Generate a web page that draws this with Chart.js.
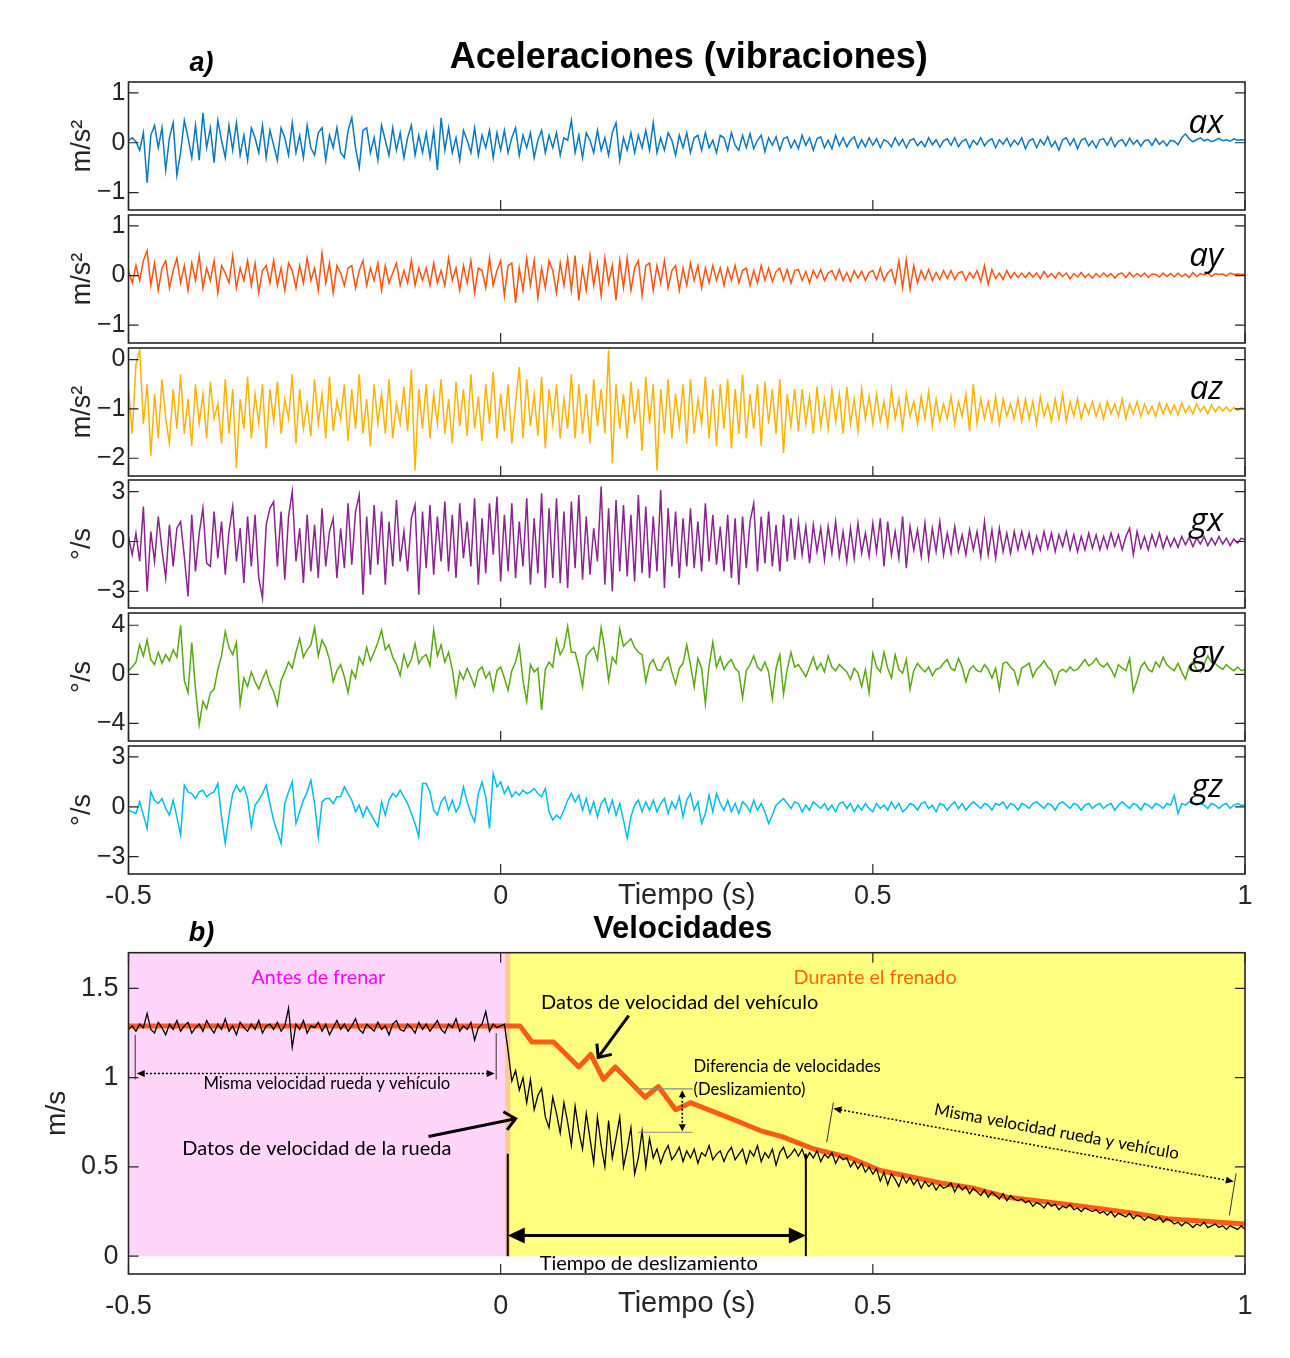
<!DOCTYPE html>
<html>
<head>
<meta charset="utf-8">
<script src="https://cdn.jsdelivr.net/npm/chart.js@4.4.1/dist/chart.umd.min.js"></script>
<style>
  html, body { margin: 0; padding: 0; background: #fff; }
  #fig { position: relative; width: 1290px; height: 1358px; background: #fff; overflow: hidden; }
  #fig canvas { position: absolute; left: 0; }
</style>
</head>
<body>
<div id="fig"></div>
<script>
// ---- sampling of the logged signals (s); one row = 20 samples = 0.1 s ----
const T0 = -0.5;
const DT = 0.005;

// ---- accelerations (m/s^2) ----
const ax = [
  .05,.1,.02,-.15,.2,-.8,.15,.35,-.1,.3,-.55,.1,.4,-.65,-.2,.45,.1,-.3,.35,-.35,
  .6,-.1,.3,-.4,.45,.05,-.3,.35,-.15,.4,-.25,.15,-.35,.3,.1,-.2,.35,-.3,.25,-.05,
  -.35,.3,.1,-.25,.4,-.2,.15,-.3,.35,-.1,-.25,.2,.3,-.35,.15,-.1,.3,-.2,-.3,.25,
  .5,-.1,-.5,.25,.3,-.2,.1,-.35,.35,.05,-.25,.3,-.15,.2,-.3,.1,.35,-.25,.15,-.2,
  .2,-.3,.25,-.55,.5,-.15,.3,-.2,.1,-.35,.25,.05,-.2,.3,-.25,.15,-.1,.25,-.3,.2,
  -.15,.25,-.2,.1,.3,-.25,.15,-.1,.2,-.3,.05,.25,-.2,.15,-.1,.2,-.25,.1,.05,.45,
  -.2,.15,-.3,.2,.05,-.2,.25,-.15,.1,-.25,.2,.4,-.35,.1,-.15,.2,-.2,.15,-.1,.25,
  -.15,.4,-.2,.1,-.15,.2,.05,-.25,.15,-.1,.2,-.2,.1,.15,-.15,.2,-.1,.05,-.2,.15,
  .1,-.15,.2,-.05,-.15,.15,-.1,.18,-.12,.05,.15,-.18,.1,-.05,.12,-.15,.08,.12,-.1,.05,
  -.12,.15,-.05,.1,-.15,.08,.12,-.1,.05,-.12,.15,-.06,.1,-.08,.05,.12,-.1,.06,-.08,.1,
  -.05,.08,-.1,.06,.02,-.08,.1,-.05,.07,-.1,.05,.08,-.06,.03,-.08,.1,-.04,.06,-.09,.04,
  .08,-.05,.1,-.08,.03,.07,-.1,.05,-.04,.1,-.06,.04,.08,-.1,.06,-.03,.09,-.07,.05,-.04,
  .1,-.12,.04,.08,-.1,.06,-.04,.12,-.08,.03,-.15,.06,.1,-.05,.08,-.12,.05,.09,-.06,.04,
  -.1,.06,.08,-.05,.1,-.08,.03,.06,-.06,.09,-.03,.05,-.07,.04,.06,-.05,.08,-.03,.04,-.06,
  .05,.03,-.04,.1,.18,.08,.02,.06,.1,.04,.07,.02,.05,.09,.04,.06,.03,.08,.05,.06,
  .05
];
const ay = [
  .1,-.15,.2,-.1,.3,.5,-.2,.25,-.3,.15,.3,-.25,.1,.35,-.15,.2,-.3,.25,-.1,.4,
  -.25,.15,-.1,.3,-.35,.2,.05,-.15,.4,-.25,.15,-.1,.3,-.2,.25,-.35,.1,.2,-.15,.3,
  -.2,.15,-.3,.25,.1,-.25,.2,-.15,.35,-.1,.15,-.3,.45,-.15,.25,-.35,.2,.05,-.2,.15,
  .2,-.25,.1,.3,-.2,.15,-.1,.25,-.3,.2,-.15,.05,.25,-.2,.1,-.15,.3,-.2,.15,-.1,
  .15,-.2,.25,-.15,.1,-.2,.35,-.1,.15,-.3,.2,-.15,.3,-.35,.15,.1,-.25,.35,-.2,.1,
  .3,-.4,.2,.25,-.55,.15,-.3,.35,-.2,.3,-.45,.15,-.25,.3,.1,-.35,.25,-.2,.35,-.3,
  .4,-.5,.15,-.3,.4,-.2,.25,-.4,.35,-.15,.2,-.5,.3,-.25,.35,-.3,.15,.3,-.4,.2,
  .25,-.3,.2,-.15,.3,-.25,.1,.2,-.3,.15,-.2,.25,-.1,.2,-.25,.15,-.15,.2,-.1,.15,
  -.2,.15,-.1,.2,-.15,.1,.15,-.2,.1,-.15,.2,-.1,.15,-.12,.08,.15,-.1,.12,-.15,.1,
  .12,-.1,.08,-.15,.1,-.05,.12,-.1,.05,.1,-.08,.12,-.1,.06,-.12,.1,-.05,.08,-.1,.06,
  .1,-.08,.15,-.1,.05,.12,-.15,.3,-.25,.32,-.28,.2,-.15,.1,-.08,.12,-.1,.06,-.08,.1,
  -.06,.1,-.08,.05,.08,-.1,.06,-.05,.1,-.12,.2,-.18,.12,-.06,.05,-.08,.1,-.05,.06,-.04,
  .05,-.04,.06,-.03,.05,-.06,.08,-.03,.04,-.05,.06,-.02,.05,-.07,.04,-.03,.06,-.04,.03,-.05,
  .04,-.03,.05,-.02,.04,-.05,.03,.05,-.04,.06,-.03,.04,-.02,.05,-.04,.03,.02,-.03,.05,-.02,
  .04,-.03,.05,-.02,.03,-.04,.06,-.02,.04,.01,.05,-.02,.04,.02,.03,-.01,.05,.02,.03,.02,
  .03
];
const az = [
  -.6,-1.5,-.1,.2,-1.3,-.5,-1.95,-.7,-1.6,-.4,-1.2,-1.7,-.6,-1.4,-.3,-1.5,-.8,-1.75,-.5,-1.3,
  -.7,-1.6,-.45,-1.2,-.9,-1.7,-.4,-1.5,-.6,-2.2,-.8,-1.4,-.35,-1.6,-.7,-1.3,-.5,-1.8,-.6,-1.25,
  -.45,-1.5,-.8,-1.2,-.3,-1.7,-.6,-1.4,-.9,-1.55,-.4,-1.3,-.7,-1.6,-.35,-1.45,-.85,-1.2,-.5,-1.65,
  -.6,-1.4,-.3,-1.5,-.8,-1.75,-.5,-1.3,-.7,-1.5,-.4,-1.6,-.9,-1.3,-.55,-1.45,-.2,-2.25,-.6,-1.4,
  -.5,-1.6,-.7,-1.3,-.4,-1.5,-.8,-1.7,-.45,-1.35,-.6,-1.55,-.3,-1.4,-.75,-1.65,-.5,-1.3,-.25,-1.6,
  -.7,-1.45,-.5,-1.7,-.9,-.15,-1.6,-.4,-1.35,-.7,-1.55,-.35,-1.8,-.6,-1.3,-.5,-1.6,-.8,-1.4,-.3,
  -1.6,-.5,-1.5,-.7,-1.7,-.4,-1.35,-.6,-1.5,.2,-2.1,-.5,-1.4,-.7,-1.6,-.45,-1.3,-.6,-1.85,-.35,
  -1.3,-.5,-2.25,-.6,-1.5,-.4,-1.6,-.7,-1.35,-.5,-1.7,-.4,-1.5,-.8,-1.3,-.35,-1.6,-.6,-1.75,-.5,
  -1.4,-.4,-1.8,-.6,-1.5,-.3,-1.6,-.7,-1.4,-.5,-1.75,-.45,-1.3,-.6,-1.5,-.4,-1.9,-.7,-1.35,-.6,
  -1.45,-.6,-1.3,-.75,-1.5,-.55,-1.35,-.8,-1.4,-.6,-1.25,-.7,-1.5,-.55,-1.3,-.8,-1.45,-.6,-1.2,-.75,
  -1.3,-.7,-1.25,-.85,-1.35,-.6,-1.2,-.8,-1.4,-.7,-1.15,-.85,-1.3,-.75,-1.2,-.65,-1.35,-.8,-1.25,-.9,
  -1.2,-.75,-1.3,-.85,-1.15,-.7,-1.45,-.5,-1.3,-.8,-1.2,-.85,-1.25,-.75,-1.3,-.8,-1.15,-.9,-1.2,-.8,
  -1.25,-.8,-1.2,-.85,-1.3,-.75,-1.15,-.9,-1.25,-.8,-1.2,-.7,-1.25,-.85,-1.15,-.8,-1.2,-.9,-1.1,-.85,
  -1.15,-.9,-1.2,-.85,-1.1,-.9,-1.15,-.8,-1.2,-.9,-1.1,-.85,-1.15,-.9,-1.1,-.95,-1.15,-.88,-1.1,-.9,
  -1.1,-.92,-1.12,-.88,-1.08,-.95,-1.1,-.9,-1.05,-.95,-1.1,-.92,-1.06,-.95,-1.04,-.96,-1.05,-.97,-1.03,-.98,
  -1
];

// ---- angular rates (deg/s) ----
const gx = [
  .3,-.8,.5,-1.2,2.1,-3,.6,-1.2,1.5,-.5,-2.2,1,-1.5,.8,1.2,-.9,-3.3,1.6,-1.8,.5,
  2,-1.3,-1.5,1.8,-1,1.2,-2,.6,2.1,-1.2,.8,-2.5,1.5,-1.5,1.6,-2.2,-3.4,1,2,2.4,
  -1.5,1.8,-2.3,1.5,3,-1.2,.8,-2.5,1.6,-1.8,1,-2.2,2,-1.5,.6,1.4,-2.2,.8,-1.6,2.3,
  -1.4,1.8,2.8,-3.2,1.5,-2,2.2,-1.4,1.8,-2.6,1.2,-1.5,2.5,-1.2,.6,-1.8,1.4,2.2,-3.2,1.8,
  -1.6,2.2,-2,1.5,-1.2,2.4,-1.8,1.6,-2.2,2.3,-1,1.2,-1.5,2.6,-2.6,1.4,-1.9,2.3,-.8,2.7,
  -2.4,1.6,-1.8,2.3,-2.2,1.2,-1.5,2.6,-2.6,1.4,-1.9,2.9,-2.8,2,-2.2,2.6,-2.5,1.8,-2.8,2.4,
  -1.6,2.8,-2.3,1.5,-2,.8,-1.2,3.3,-2.6,2,-3,2.5,-1.8,2.2,-2.1,1.6,-2.4,2.8,-1.9,2.1,
  -2.2,1.5,-1.8,3.1,-2.8,2,-1.5,1.8,-2.2,1.4,-1.5,2,-1.6,1.2,-1.8,2.3,-1.2,1.6,-1.4,.9,
  -1.8,1.6,-2.2,1.4,-2.6,1.5,-1.6,1.2,2.3,-1.8,1.5,-1.3,1.8,-1.5,1,-1.8,1.6,-1.2,1.4,-1.1,
  1.2,-.8,.9,-1.3,1,-.6,.8,-1.1,.9,-.7,1.2,-.9,.6,-1.2,.8,-1,1.1,-.7,.5,-.9,
  1.1,-.6,1.4,-1.5,1.2,-.8,.6,-1,1.5,-1.6,.9,-.5,.7,-.9,1.1,-1,.8,-.6,1.2,-.8,
  .5,-.7,.9,-.6,.4,-.8,.7,-.5,.6,-.9,1.2,-.8,.7,-1,.8,-.6,.5,-.7,.6,-.5,
  .6,-.4,.5,-.7,.3,-.5,.6,-.4,.5,-.6,.4,-.3,.6,-.5,.4,-.6,.3,-.5,.5,-.4,
  .4,-.5,.3,-.4,.5,-.3,.4,-.5,.3,.8,-.8,.6,-.4,.3,-.5,.4,-.3,.5,-.4,.3,
  -.3,.2,-.35,.3,-.2,.25,-.3,.2,-.15,.3,-.25,.2,-.2,.3,-.15,.2,-.25,.15,-.1,.2,
  .1
];
const gy = [
  .3,.6,1,2.4,1.5,2.8,1.2,.8,1.8,.9,1.6,1.1,2,1.4,4,-.5,-1.5,2.6,-1.2,-4.1,
  -2.2,-2.8,-1.5,-1.2,.4,1.5,3.5,2.2,1.6,2.6,-2.4,-.3,-1,.2,-.6,-1.2,-.4,.3,-.8,-1.4,
  -2.5,-.5,.2,1,.5,1.8,2.9,1.4,2,2.4,3.8,1.5,2.8,2.2,1.2,-.6,.3,.8,-.2,-1.5,
  .3,-.3,1.4,.8,2.2,1.1,1.8,2.6,3.6,2,2.4,1.4,.8,-.1,1.6,.6,1.2,2.5,.9,1.4,
  1.6,.7,3.6,1.5,2.4,1,1.8,.4,-1.7,.2,-.4,.5,-.2,-1,.3,.6,-.3,.2,-1.3,.3,
  .6,-.3,-1.3,.3,1,2.3,-.5,-2.2,.8,.2,.5,-2.9,.4,1,.6,2.8,1.6,2.2,3.9,1.8,
  1.8,.6,-1,1.5,1.9,2.2,1.2,3.8,2,-.5,1.4,.9,3.7,2.3,2.6,2.9,2.2,1.8,1.6,-.6,
  .8,1.2,.4,.3,1,1.4,.2,-.8,.5,.9,2.4,.8,-1,1.3,.5,-2.4,.7,2.6,.6,1.4,
  .4,.9,1.2,.5,.2,-1.9,.3,.8,1.5,.6,.3,1,.2,-2,.5,1.6,-1.6,.4,1.8,.6,
  .8,.3,-.2,.6,1.4,.4,.9,.2,1.5,.6,.3,.8,.5,.2,-.4,.5,.1,-1,.4,-1.5,
  1.7,.6,.2,1.8,.5,-.3,1.6,.4,.1,1.2,-1.2,.3,.9,.5,.2,.6,-.1,.4,.5,.9,
  1.2,.5,.3,1.3,.6,-.6,.4,.7,.3,.2,.8,.4,-.3,.5,-1.2,.9,1,.6,.3,-.8,
  .5,.7,.9,-.2,.4,.7,1.1,.6,.3,-.8,.2,.4,.2,.6,.3,.4,.8,1.2,.7,.9,
  1.3,.8,.6,.9,.4,-.2,.8,.5,.3,1.3,-1.4,-.5,.6,1,.4,.2,1,.6,1.4,.8,
  .5,.3,.9,.2,-.4,.7,1,.4,.2,.8,1.5,1,.9,.6,.4,.8,.5,.3,.6,.3,
  .4
];
const gz = [
  -.2,-.3,-.4,.3,-.5,-1.3,.9,.4,.2,.5,-.1,-.5,.4,-.6,-1.7,1.3,.9,.8,.5,.9,
  1,.6,.8,.9,1.4,-.6,-2.2,-.5,.8,1.3,.9,1.2,.5,-1.2,.1,.4,.8,1.3,.2,-.8,
  -1.5,-2.2,.2,.9,1.5,-1,-.3,.4,.9,1.6,.2,-1.8,.3,.5,.5,.2,.6,.6,1.2,.8,
  .4,-.3,.1,-.6,0,-.4,-.8,-1.2,.3,-.5,.4,.8,.6,1,.6,.2,-.4,-1,-1.8,1.4,
  1.4,.9,-.2,-.5,.3,.6,-.2,.4,-.3,.1,1.2,.3,-.4,-.9,.8,1.5,.6,-1.3,2,1.2,
  1.5,.8,1.2,.6,.9,.7,1,.8,.9,1.1,.8,.6,1.1,-.3,-.8,-.5,-.7,-.2,.4,.8,
  .3,.7,-.2,.5,-.4,.3,-.6,.2,.5,-.3,.4,-.5,.2,-.8,-1.9,-.6,.1,.4,-.3,.3,
  -.2,.4,-.3,.2,.5,-.4,.3,-.1,.6,-.6,.4,.8,-.2,.3,-1,-.4,.7,-.3,.8,.2,
  -.2,.4,-.3,.2,-.4,.3,.1,-.3,.4,-.2,.2,-.3,-1,-.5,.1,.3,.5,.2,-.1,.3,
  .2,-.3,.1,-.2,.3,.1,-.1,.2,-.2,.1,-.3,.2,.3,-.1,.2,-.3,.1,-.2,.2,-.1,
  -.3,.2,-.1,.1,-.2,.3,-.1,.2,-.3,-.1,.2,.1,-.2,.2,.3,-.1,.1,-.3,.2,.1,
  -.2,.1,.3,-.1,.2,-.2,.1,.3,.1,-.1,.2,.1,-.2,.2,.1,.3,-.1,.2,.1,-.2,
  .2,.1,-.1,.2,.3,.1,-.1,.2,.1,-.2,.2,.3,.1,-.1,.2,.1,-.2,.1,.2,-.1,
  .1,.2,-.1,.1,.2,-.2,.1,.3,.1,-.1,.2,.1,-.2,.2,.1,-.1,.2,.1,-.1,.2,
  .1,.7,-.4,.2,.1,.3,.2,.1,.2,.1,-.1,.2,.1,-.1,.1,.2,-.1,.1,.2,.1,
  .1
];

// ---- speeds (m/s) ----
const wheelSpeed = [
  1.27,1.29,1.26,1.3,1.28,1.36,1.27,1.25,1.31,1.28,1.24,1.3,1.27,1.32,1.26,1.29,1.31,1.25,1.28,1.3,
  1.26,1.32,1.28,1.25,1.3,1.27,1.33,1.26,1.29,1.24,1.31,1.28,1.26,1.3,1.27,1.32,1.25,1.29,1.3,1.27,
  1.31,1.26,1.29,1.39,1.17,1.3,1.27,1.32,1.25,1.29,1.28,1.31,1.26,1.3,1.24,1.28,1.32,1.27,1.3,1.26,
  1.29,1.33,1.27,1.25,1.3,1.28,1.26,1.31,1.27,1.29,1.24,1.3,1.32,1.27,1.26,1.3,1.28,1.25,1.31,1.27,
  1.3,1.26,1.29,1.32,1.27,1.25,1.3,1.28,1.33,1.26,1.29,1.27,1.31,1.21,1.28,1.3,1.37,1.26,1.3,1.28,
  1.29,1.3,1.15,.98,1.04,.93,1,.86,.99,.82,.9,.94,.78,.72,.89,.8,.69,.86,.75,.62,
  .84,.7,.6,.8,.66,.52,.78,.62,.5,.76,.55,.66,.78,.5,.6,.72,.46,.55,.7,.5,
  .66,.55,.6,.52,.58,.62,.54,.57,.61,.53,.59,.55,.6,.52,.58,.56,.62,.54,.57,.59,
  .53,.58,.61,.54,.57,.6,.52,.59,.56,.62,.53,.58,.55,.6,.51,.58,.61,.55,.57,.6,
  .56,.6,.54,.58,.55,.59,.53,.57,.55,.58,.52,.56,.54,.55,.5,.53,.49,.52,.47,.5,
  .46,.49,.42,.47,.4,.46,.43,.39,.45,.41,.44,.4,.43,.38,.42,.39,.41,.37,.4,.38,
  .39,.41,.36,.4,.37,.39,.35,.38,.36,.34,.37,.33,.36,.34,.32,.35,.31,.34,.32,.31,
  .32,.3,.31,.28,.3,.29,.27,.3,.28,.29,.26,.28,.27,.29,.26,.27,.25,.27,.26,.25,
  .26,.24,.25,.23,.25,.22,.24,.23,.22,.24,.21,.23,.22,.2,.22,.21,.2,.22,.19,.21,
  .2,.18,.19,.17,.19,.18,.16,.18,.17,.19,.16,.17,.18,.16,.17,.15,.17,.16,.15,.17,
  .15
];
const vehicleTime  = [-0.5, 0.026, 0.042, 0.071, 0.105, 0.121, 0.138, 0.154, 0.194, 0.212, 0.235, 0.255, 0.316, 0.351, 0.378, 0.421, 0.47, 0.51, 0.591, 0.636, 0.681, 0.762, 0.851, 0.896, 1.0];
const vehicleSpeed = [1.29, 1.29, 1.2, 1.2, 1.06, 1.13, 0.99, 1.06, 0.89, 0.95, 0.82, 0.86, 0.76, 0.70, 0.67, 0.60, 0.55, 0.48, 0.41, 0.38, 0.33, 0.29, 0.24, 0.21, 0.18];

// ---- braking phases (s) ----
const brakeStart = 0.0095;
const slipEnd = 0.41;

// ---- tick values ----
const timeTicks = [-0.5, 0, 0.5, 1];
const axTicks = [-1, 0, 1];
const ayTicks = [-1, 0, 1];
const azTicks = [-2, -1, 0];
const gxTicks = [-3, 0, 3];
const gyTicks = [-4, 0, 4];
const gzTicks = [-3, 0, 3];
const speedTicks = [0, 0.5, 1, 1.5];

// ---- layout ----
const W = 1290;
const AREA_LEFT = 128.5;
const AREA_RIGHT = 1245;
const SANS = "'Liberation Sans', Arial, Helvetica, sans-serif";
const NOTE = "Lato, 'Open Sans', sans-serif";
const INK = '#262626';

const fig = document.getElementById('fig');
const series = arr => arr.map((v, i) => ({ x: T0 + i * DT, y: v }));
const fmtY = v => (v < 0 ? '\u2212' : '') + String(Math.abs(v));
const fmtX = v => String(v);

function framePlugin(topTicks) {
  return {
    id: 'frame',
    afterDatasetsDraw(chart) {
      const { ctx, chartArea: a, scales: { x, y } } = chart;
      const L = 10;
      ctx.save();
      ctx.strokeStyle = INK;
      ctx.lineWidth = 1.2;
      ctx.beginPath();
      y.ticks.forEach(t => {
        const py = y.getPixelForValue(t.value);
        ctx.moveTo(a.left, py); ctx.lineTo(a.left + L, py);
        ctx.moveTo(a.right, py); ctx.lineTo(a.right - L, py);
      });
      x.ticks.forEach(t => {
        const px = x.getPixelForValue(t.value);
        ctx.moveTo(px, a.bottom); ctx.lineTo(px, a.bottom - L);
        if (topTicks) { ctx.moveTo(px, a.top); ctx.lineTo(px, a.top + L); }
      });
      ctx.stroke();
      ctx.lineWidth = 1.6;
      ctx.strokeRect(a.left, a.top, a.right - a.left, a.bottom - a.top);
      ctx.restore();
    }
  };
}

function addPanel(cfg) {
  const h = cfg.padTop + cfg.areaH + cfg.padBottom;
  const cv = document.createElement('canvas');
  cv.width = W; cv.height = Math.round(h);
  cv.style.width = W + 'px'; cv.style.height = Math.round(h) + 'px';
  cv.style.top = (cfg.areaTop - cfg.padTop) + 'px';
  fig.appendChild(cv);
  const xTitle = cfg.xLabels
    ? { display: true, text: 'Tiempo (s)', color: INK, font: { family: SANS, size: 29 }, padding: { top: 0, bottom: cfg.xTitlePad } }
    : { display: false };
  return new Chart(cv, {
    type: 'line',
    data: { datasets: cfg.datasets },
    options: {
      responsive: false, maintainAspectRatio: false, animation: false, devicePixelRatio: 1,
      layout: { padding: { top: cfg.padTop, left: 0, right: W - AREA_RIGHT, bottom: 0 } },
      plugins: { legend: { display: false }, tooltip: { enabled: false } },
      elements: { point: { radius: 0 }, line: { tension: 0 } },
      scales: {
        x: {
          type: 'linear', min: -0.5, max: 1,
          afterBuildTicks: s => { s.ticks = timeTicks.map(v => ({ value: v })); },
          afterFit: s => { s.height = cfg.padBottom; },
          grid: { display: false, drawTicks: false }, border: { display: false },
          ticks: { display: !!cfg.xLabels, autoSkip: false, maxRotation: 0, padding: cfg.xPad || 0,
                   color: INK, font: { family: SANS, size: 27 }, callback: v => fmtX(v) },
          title: xTitle
        },
        y: {
          type: 'linear', min: cfg.yMin, max: cfg.yMax,
          afterBuildTicks: s => { s.ticks = cfg.yTicks.map(v => ({ value: v })); },
          afterFit: s => { s.width = AREA_LEFT; },
          grid: { display: false, drawTicks: false }, border: { display: false },
          ticks: { autoSkip: false, padding: cfg.yPad, color: INK, font: { family: SANS, size: cfg.yFont },
                   callback: v => fmtY(v) },
          title: { display: true, text: cfg.yTitle, color: INK, font: { family: SANS, size: cfg.yTitleSize },
                   padding: { top: cfg.yTitlePad, bottom: 0 } }
        }
      }
    },
    plugins: [framePlugin(cfg.topTicks)].concat(cfg.extra || [])
  });
}

function tagPlugin(tag) {
  return {
    id: 'tag',
    afterDatasetsDraw(chart) {
      const { ctx, chartArea: a } = chart;
      ctx.save();
      ctx.font = "italic 33px 'Open Sans', sans-serif";
      ctx.fillStyle = '#000';
      ctx.textAlign = 'right';
      ctx.textBaseline = 'alphabetic';
      ctx.fillText(tag, a.right - 22, a.top + 51);
      ctx.restore();
    }
  };
}

function headingPlugin(title, size, dx, label, dyTitle, dyLabel) {
  return {
    id: 'heading',
    afterDraw(chart) {
      const { ctx, chartArea: a } = chart;
      ctx.save();
      ctx.fillStyle = '#000';
      ctx.textBaseline = 'middle';
      ctx.textAlign = 'center';
      ctx.font = `bold ${size}px ${SANS}`;
      ctx.fillText(title, (a.left + a.right) / 2 + dx, a.top - dyTitle);
      ctx.font = `italic bold 27px ${SANS}`;
      ctx.fillText(label, a.left + 73, a.top - dyLabel);
      ctx.restore();
    }
  };
}

// ---- drawing helpers for the annotations of panel b ----
function seg(ctx, x1, y1, x2, y2) { ctx.beginPath(); ctx.moveTo(x1, y1); ctx.lineTo(x2, y2); ctx.stroke(); }
function openHead(ctx, xt, yt, xf, yf, len, ang) {
  const a = Math.atan2(yt - yf, xt - xf);
  ctx.beginPath();
  ctx.moveTo(xt - len * Math.cos(a - ang), yt - len * Math.sin(a - ang));
  ctx.lineTo(xt, yt);
  ctx.lineTo(xt - len * Math.cos(a + ang), yt - len * Math.sin(a + ang));
  ctx.stroke();
}
function solidHead(ctx, xt, yt, xf, yf, len, half) {
  const a = Math.atan2(yt - yf, xt - xf);
  const bx = xt - len * Math.cos(a), by = yt - len * Math.sin(a);
  const nx = -Math.sin(a) * half, ny = Math.cos(a) * half;
  ctx.beginPath();
  ctx.moveTo(xt, yt); ctx.lineTo(bx + nx, by + ny); ctx.lineTo(bx - nx, by - ny);
  ctx.closePath(); ctx.fill();
}

const notesPlugin = {
  id: 'notes',
  afterDatasetsDraw(chart) {
    const { ctx, scales: { x: xs, y: ys } } = chart;
    const X = v => xs.getPixelForValue(v);
    const Y = v => ys.getPixelForValue(v);
    const text = (s, t, v, size, color, align) => {
      ctx.font = `${size}px ${NOTE}`;
      ctx.fillStyle = color;
      ctx.textAlign = align || 'center';
      ctx.textBaseline = 'middle';
      ctx.fillText(s, X(t), Y(v));
    };
    ctx.save();
    ctx.lineCap = 'butt';

    text('Antes de frenar', -0.245, 1.562, 19.7, '#FF00FF');
    text('Durante el frenado', 0.503, 1.562, 19.7, '#FF6600');
    text('Datos de velocidad del vehículo', 0.2405, 1.422, 20, '#000');
    text('Diferencia de velocidades', 0.259, 1.064, 16.7, '#000', 'left');
    text('(Deslizamiento)', 0.259, 0.933, 16.7, '#000', 'left');
    text('Misma velocidad rueda y vehículo', -0.2335, 0.967, 16.7, '#000');
    text('Datos de velocidad de la rueda', -0.247, 0.601, 20, '#000');
    text('Tiempo de deslizamiento', 0.199, -0.043, 20, '#000');

    // pointer to the vehicle trace
    ctx.strokeStyle = '#000'; ctx.fillStyle = '#000';
    ctx.lineWidth = 3;
    seg(ctx, X(0.172), Y(1.348), X(0.131), Y(1.113));
    openHead(ctx, X(0.131), Y(1.113), X(0.172), Y(1.348), 14, 0.72);
    // pointer to the wheel trace
    seg(ctx, X(-0.097), Y(0.67), X(0.02), Y(0.77));
    openHead(ctx, X(0.02), Y(0.77), X(-0.097), Y(0.67), 14, 0.72);

    // slip time span
    ctx.lineWidth = 2;
    seg(ctx, X(brakeStart), Y(0), X(brakeStart), Y(0.574));
    seg(ctx, X(slipEnd), Y(0), X(slipEnd), Y(0.574));
    ctx.lineWidth = 3;
    seg(ctx, X(brakeStart) + 12, Y(0.116), X(slipEnd) - 12, Y(0.116));
    solidHead(ctx, X(brakeStart), Y(0.116), X(slipEnd), Y(0.116), 17, 8);
    solidHead(ctx, X(slipEnd), Y(0.116), X(brakeStart), Y(0.116), 17, 8);

    // speed difference marker
    ctx.strokeStyle = '#8a8a8a'; ctx.lineWidth = 1.2;
    seg(ctx, X(0.184), Y(0.937), X(0.258), Y(0.937));
    seg(ctx, X(0.184), Y(0.694), X(0.258), Y(0.694));
    ctx.strokeStyle = '#000'; ctx.lineWidth = 1.6;
    ctx.setLineDash([2, 2]);
    seg(ctx, X(0.244), Y(0.915), X(0.244), Y(0.716));
    ctx.setLineDash([]);
    solidHead(ctx, X(0.244), Y(0.93), X(0.244), Y(0.7), 7, 3.5);
    solidHead(ctx, X(0.244), Y(0.7), X(0.244), Y(0.93), 7, 3.5);

    // same speed before braking
    ctx.lineWidth = 1;
    ctx.strokeStyle = '#333';
    seg(ctx, X(-0.491), Y(1.24), X(-0.491), Y(0.99));
    seg(ctx, X(-0.006), Y(1.25), X(-0.006), Y(0.99));
    ctx.strokeStyle = '#000'; ctx.lineWidth = 1.5;
    ctx.setLineDash([2, 2]);
    seg(ctx, X(-0.482), Y(1.023), X(-0.013), Y(1.023));
    ctx.setLineDash([]);
    solidHead(ctx, X(-0.489), Y(1.023), X(-0.006), Y(1.023), 8, 3.5);
    solidHead(ctx, X(-0.008), Y(1.023), X(-0.489), Y(1.023), 8, 3.5);

    // same speed at the end of braking
    const p1 = { x: X(0.447), y: Y(0.827) }, p2 = { x: X(0.985), y: Y(0.418) };
    const ang = Math.atan2(p2.y - p1.y, p2.x - p1.x);
    ctx.lineWidth = 1;
    ctx.strokeStyle = '#333';
    seg(ctx, X(0.447), Y(0.86), X(0.438), Y(0.638));
    seg(ctx, X(0.988), Y(0.463), X(0.979), Y(0.228));
    ctx.strokeStyle = '#000'; ctx.lineWidth = 1.5;
    ctx.setLineDash([2, 2]);
    seg(ctx, p1.x + 7 * Math.cos(ang), p1.y + 7 * Math.sin(ang), p2.x - 7 * Math.cos(ang), p2.y - 7 * Math.sin(ang));
    ctx.setLineDash([]);
    solidHead(ctx, p1.x, p1.y, p2.x, p2.y, 8, 3.5);
    solidHead(ctx, p2.x, p2.y, p1.x, p1.y, 8, 3.5);
    ctx.save();
    ctx.translate(X(0.747), Y(0.697));
    ctx.rotate(ang);
    ctx.font = `16.8px ${NOTE}`;
    ctx.fillStyle = '#000';
    ctx.textAlign = 'center';
    ctx.textBaseline = 'middle';
    ctx.fillText('Misma velocidad rueda y vehículo', 0, 0);
    ctx.restore();

    ctx.restore();
  }
};

function build() {
  const PANEL_TOP = 82.3, PANEL_STEP = 132.7, PANEL_H = 128;
  // margins around each plot area are kept larger than half a tick label,
  // so the layout never shrinks the plot area to fit the outer labels
  const common = { areaH: PANEL_H, padTop: 22, padBottom: 22, yPad: 3, yFont: 25, yTitleSize: 27, yTitlePad: 66, topTicks: false };
  const top = k => PANEL_TOP + k * PANEL_STEP;
  const line = (data, color) => ({ data: series(data), borderColor: color, borderWidth: 1.5, pointRadius: 0, fill: false });

  addPanel(Object.assign({}, common, {
    areaTop: top(0), padTop: 62, yMin: -1.35, yMax: 1.22, yTicks: axTicks, yTitle: 'm/s²',
    datasets: [line(ax, '#0A78C2')],
    extra: [tagPlugin('ax'), headingPlugin('Aceleraciones (vibraciones)', 36, 2, 'a)', 24, 18)]
  }));
  addPanel(Object.assign({}, common, {
    areaTop: top(1), yMin: -1.36, yMax: 1.22, yTicks: ayTicks, yTitle: 'm/s²',
    datasets: [line(ay, '#FF5410')], extra: [tagPlugin('ay')]
  }));
  addPanel(Object.assign({}, common, {
    areaTop: top(2), yMin: -2.36, yMax: 0.235, yTicks: azTicks, yTitle: 'm/s²',
    datasets: [line(az, '#FFB200')], extra: [tagPlugin('az')]
  }));
  addPanel(Object.assign({}, common, {
    areaTop: top(3), yMin: -4.0, yMax: 3.7, yTicks: gxTicks, yTitle: '°/s',
    datasets: [line(gx, '#8A2490')], extra: [tagPlugin('gx')]
  }));
  addPanel(Object.assign({}, common, {
    areaTop: top(4), yMin: -5.43, yMax: 5.0, yTicks: gyTicks, yTitle: '°/s',
    datasets: [line(gy, '#58A912')], extra: [tagPlugin('gy')]
  }));
  addPanel(Object.assign({}, common, {
    areaTop: top(5), padBottom: 46, yMin: -4.04, yMax: 3.66, yTicks: gzTicks, yTitle: '°/s',
    xLabels: true, xPad: 6, xTitlePad: 7,
    datasets: [line(gz, '#00BCEE')], extra: [tagPlugin('gz')]
  }));

  // panel b: speeds
  const SPEED_MAX = 1.7;
  addPanel({
    areaTop: 952.7, areaH: 321.3, padTop: 52.7, padBottom: 84,
    yMin: -0.1, yMax: SPEED_MAX, yTicks: speedTicks, yTitle: 'm/s', yPad: 10, yFont: 27, yTitleSize: 28, yTitlePad: 40,
    xLabels: true, xPad: 16, xTitlePad: 37, topTicks: true,
    datasets: [
      { data: series(wheelSpeed), borderColor: '#000', borderWidth: 1.3, pointRadius: 0, fill: false, order: 0 },
      { data: vehicleTime.map((t, i) => ({ x: t, y: vehicleSpeed[i] })), borderColor: '#FF5A16', borderWidth: 5,
        borderJoinStyle: 'round', pointRadius: 0, fill: false, order: 1 },
      { data: [{ x: brakeStart, y: 0 }, { x: brakeStart, y: SPEED_MAX }], borderColor: '#FCCB8C', borderWidth: 5,
        pointRadius: 0, fill: false, order: 2 },
      { data: [{ x: brakeStart, y: SPEED_MAX }, { x: 1, y: SPEED_MAX }], borderWidth: 0, borderColor: 'rgba(0,0,0,0)',
        backgroundColor: '#FFFF80', pointRadius: 0, fill: { value: 0 }, order: 3 },
      { data: [{ x: -0.5, y: SPEED_MAX }, { x: brakeStart, y: SPEED_MAX }], borderWidth: 0, borderColor: 'rgba(0,0,0,0)',
        backgroundColor: '#FFD6FA', pointRadius: 0, fill: { value: 0 }, order: 4 }
    ],
    extra: [notesPlugin, headingPlugin('Velocidades', 31, -4, 'b)', 23, 19)]
  });
}

const fontsWanted = [`25px ${SANS}`, `bold 36px ${SANS}`, `italic bold 27px ${SANS}`,
                     "italic 33px 'Open Sans'", '18px Lato'];
Promise.all(fontsWanted.map(f => document.fonts.load(f))).then(build, build);
</script>
</body>
</html>
